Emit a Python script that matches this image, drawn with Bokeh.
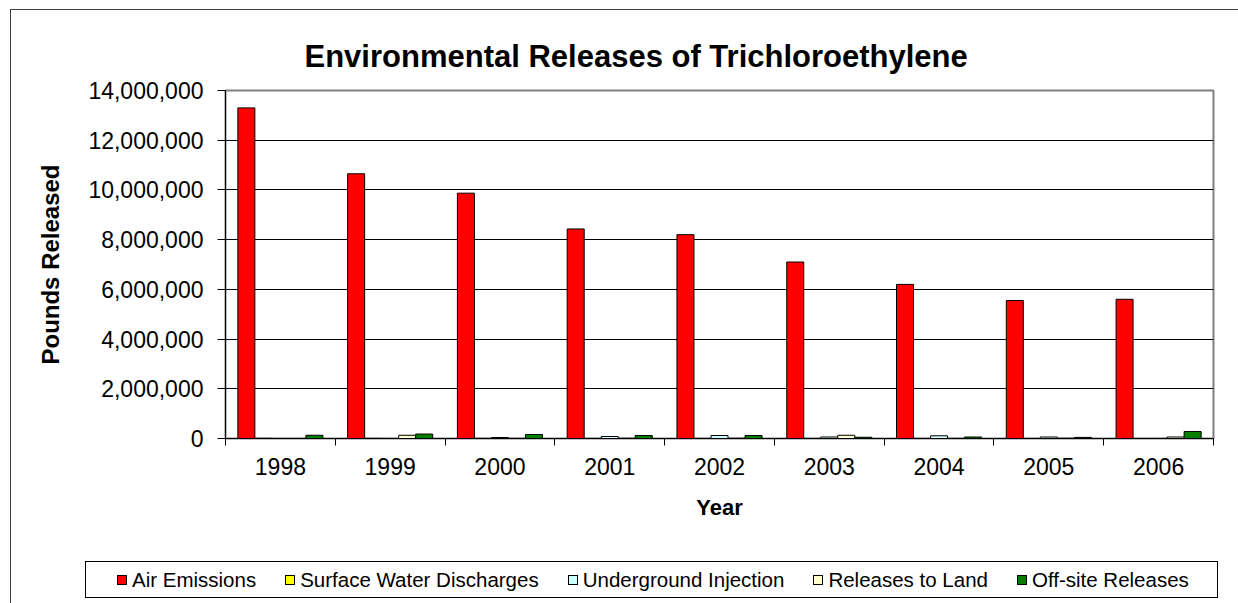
from bokeh.plotting import figure
from bokeh.models import Range1d, FixedTicker, NumeralTickFormatter, Div
from bokeh.layouts import column
from bokeh.embed import file_html
from bokeh.resources import INLINE

years = ["1998", "1999", "2000", "2001", "2002", "2003", "2004", "2005", "2006"]
series = ["Air Emissions", "Surface Water Discharges", "Underground Injection",
          "Releases to Land", "Off-site Releases"]
air_emissions = [13300000, 10650000, 9870000, 8430000, 8200000, 7100000, 6200000, 5550000, 5600000]
surface_water = [8000, 6000, 5000, 4000, 4000, 3000, 3000, 3000, 2000]
underground_injection = [2000, 3000, 40000, 80000, 120000, 60000, 110000, 60000, 3000]
releases_to_land = [3000, 130000, 5000, 10000, 10000, 130000, 5000, 10000, 60000]
offsite_releases = [130000, 180000, 160000, 120000, 120000, 50000, 60000, 45000, 280000]
colors = ["#FF0000", "#FFFF00", "#CCFFFF", "#FFFFCC", "#008000"]
y_ticks = [0, 2000000, 4000000, 6000000, 8000000, 10000000, 12000000, 14000000]

FONT = "Liberation Sans"

p = figure(x_range=Range1d(0, len(years)), y_range=Range1d(0, 14000000),
           frame_width=988, frame_height=348,
           min_border_left=214, min_border_right=25, min_border_top=80, min_border_bottom=117,
           output_backend="svg", toolbar_location=None,
           background_fill_color="white", border_fill_color="white")

p.title.text = "Environmental Releases of Trichloroethylene"
p.title.text_font = FONT
p.title.text_font_size = "31px"
p.title.text_font_style = "bold"
p.title.text_color = "black"
p.title.align = "left"
p.title.offset = 79
p.title.standoff = 33

p.outline_line_color = "#808080"
p.outline_line_width = 2

data = [air_emissions, surface_water, underground_injection, releases_to_land, offsite_releases]
bw = 0.155
for k, (name, vals, col) in enumerate(zip(series, data, colors)):
    xs = [i + 0.5 + (k - 2) * bw for i in range(len(years))]
    p.vbar(x=xs, top=vals, bottom=0, width=bw, fill_color=col,
           line_color="black", line_width=1, legend_label=name)
p.legend.visible = False

p.xgrid.visible = False
p.ygrid.ticker = FixedTicker(ticks=y_ticks[1:-1])
p.ygrid.grid_line_color = "black"
p.ygrid.grid_line_width = 1

centers = [i + 0.5 for i in range(len(years))]
xa = p.xaxis[0]
xa.ticker = FixedTicker(ticks=centers, minor_ticks=list(range(len(years) + 1)))
xa.major_label_overrides = {c: y for c, y in zip(centers, years)}
xa.major_tick_out = 0
xa.major_tick_in = 0
xa.minor_tick_out = 7
xa.minor_tick_in = 0
xa.minor_tick_line_color = "black"
xa.axis_line_color = "black"
xa.major_label_text_font = FONT
xa.major_label_text_font_size = "23px"
xa.major_label_text_color = "black"
xa.major_label_standoff = 12
xa.axis_label = "Year"
xa.axis_label_text_font = FONT
xa.axis_label_text_font_size = "22px"
xa.axis_label_text_font_style = "bold"
xa.axis_label_text_color = "black"
xa.axis_label_standoff = 17

ya = p.yaxis[0]
ya.ticker = FixedTicker(ticks=y_ticks)
ya.formatter = NumeralTickFormatter(format="0,0")
ya.major_tick_out = 8
ya.major_tick_in = 0
ya.minor_tick_out = 0
ya.minor_tick_in = 0
ya.major_tick_line_color = "black"
ya.axis_line_color = "black"
ya.major_label_text_font = FONT
ya.major_label_text_font_size = "23px"
ya.major_label_text_color = "black"
ya.major_label_standoff = 14
ya.axis_label = "Pounds Released"
ya.axis_label_text_font = FONT
ya.axis_label_text_font_size = "24px"
ya.axis_label_text_font_style = "bold"
ya.axis_label_text_color = "black"
ya.axis_label_standoff = 21

# legend strip (HTML) below the chart
item_html = "".join(
    '<span style="display:flex;align-items:center;white-space:nowrap;">'
    f'<span style="display:inline-block;width:10px;height:10px;border:1px solid #000;'
    f'background:{col};margin-right:5px;"></span>{name}</span>'
    for name, col in zip(series, colors))
legend_html = (
    '<div style="position:relative;width:1227px;height:48px;background:#fff;">'
    '<div style="position:absolute;left:74px;top:6px;width:1133px;height:37px;'
    'box-sizing:border-box;border:1px solid #000;background:#fff;'
    'display:flex;align-items:center;gap:29px;padding-left:31px;'
    f'font-family:\'{FONT}\';font-size:20.5px;color:#000;line-height:22px;">'
    f'{item_html}</div></div>')
legend_div = Div(text=legend_html, width=1227, height=48, margin=0,
                 styles={"background": "#ffffff"})

layout = column(p, legend_div, spacing=0)
layout.styles = {"border-left": "1px solid #404040", "border-top": "1px solid #404040",
                 "margin-left": "10px", "margin-top": "9px"}

open("out.html", "w").write(file_html(layout, INLINE))
